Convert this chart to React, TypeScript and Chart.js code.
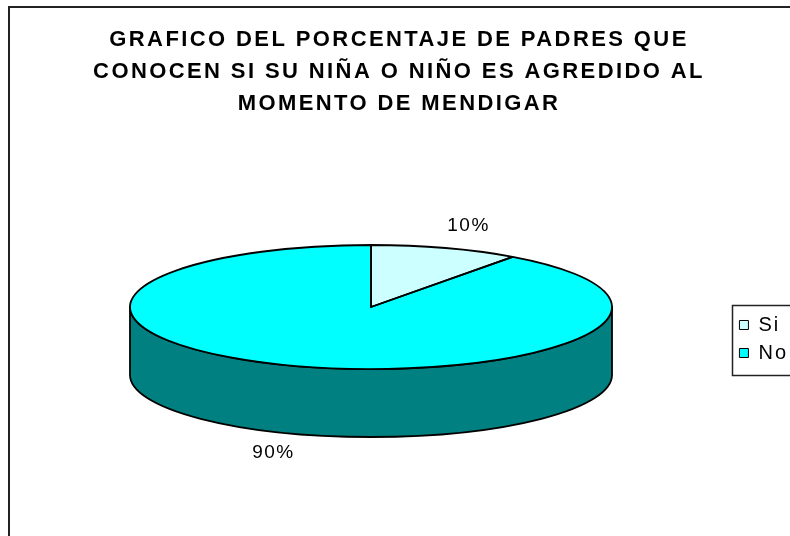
import React, { useEffect, useRef } from 'react';
import { Chart, registerables } from 'chart.js';

Chart.register(...registerables);

// ---- data ----
const categories = ['Si', 'No'];
const values = [10, 90];
const topColors = ['#CCFFFF', '#00FFFF'];
const sideColors = ['#99CCCC', '#008080'];
const titleLines = [
  'GRAFICO DEL PORCENTAJE DE PADRES QUE',
  'CONOCEN SI SU NIÑA O NIÑO ES AGREDIDO AL',
  'MOMENTO DE MENDIGAR',
];

// ---- style / layout ----
const FONT = '"Liberation Sans", Arial, Helvetica, sans-serif';
const PIE = { cx: 371, cy: 307, rx: 241, ry: 62, depth: 68 };
const TITLE_SPACING = '2.4px';
const LEGEND_SPACING = '2px';
const LABEL_SPACING = '1.5px';

function frontRanges(s: number, e: number): Array<[number, number]> {
  const out: Array<[number, number]> = [];
  for (let k = -2; k <= 2; k++) {
    const lo = k * 2 * Math.PI;
    const hi = lo + Math.PI;
    const a = Math.max(s, lo);
    const b = Math.min(e, hi);
    if (b > a) out.push([a, b]);
  }
  return out;
}

const pie3d = {
  id: 'pie3d',
  beforeLayout(chart: any) {
    chart.ctx.letterSpacing = LEGEND_SPACING;
  },
  afterLayout(chart: any) {
    const lg = chart.legend;
    if (lg && !lg._spacingWrapped) {
      const d = lg.draw;
      lg.draw = function (...args: any[]) {
        const ctx = this.ctx;
        const prev = ctx.letterSpacing;
        ctx.letterSpacing = LEGEND_SPACING;
        d.apply(this, args);
        ctx.letterSpacing = prev;
      };
      lg._spacingWrapped = true;
    }
  },
  beforeDraw(chart: any) {
    const ctx = chart.ctx;
    ctx.save();
    ctx.strokeStyle = '#222';
    ctx.lineWidth = 2;
    ctx.strokeRect(9, 7, 820, 620);
    ctx.restore();
    ctx.letterSpacing = TITLE_SPACING;
  },
  beforeDatasetsDraw(chart: any) {
    const ctx = chart.ctx;
    const arcs = chart.getDatasetMeta(0).data;
    ctx.save();
    ctx.letterSpacing = '0px';
    ctx.save();
    ctx.lineWidth = 1.8;
    ctx.strokeStyle = '#000';
    ctx.lineJoin = 'round';
    arcs.forEach((arc: any, i: number) => {
      const { startAngle, endAngle } = arc.getProps(['startAngle', 'endAngle'], true);
      for (const [a, b] of frontRanges(startAngle, endAngle)) {
        ctx.beginPath();
        ctx.ellipse(PIE.cx, PIE.cy, PIE.rx, PIE.ry, 0, a, b, false);
        ctx.ellipse(PIE.cx, PIE.cy + PIE.depth, PIE.rx, PIE.ry, 0, b, a, true);
        ctx.closePath();
        ctx.fillStyle = sideColors[i];
        ctx.fill();
        ctx.stroke();
      }
    });
    ctx.restore();
    const { x, y, outerRadius } = arcs[0].getProps(['x', 'y', 'outerRadius'], true);
    ctx.translate(PIE.cx, PIE.cy);
    ctx.scale(PIE.rx / outerRadius, PIE.ry / outerRadius);
    ctx.translate(-x, -y);
  },
  afterDatasetsDraw(chart: any) {
    const ctx = chart.ctx;
    ctx.restore();
    const arcs = chart.getDatasetMeta(0).data;
    const total = values.reduce((s, v) => s + v, 0);
    ctx.save();
    ctx.lineWidth = 1.8;
    ctx.strokeStyle = '#000';
    ctx.lineJoin = 'round';
    arcs.forEach((arc: any) => {
      const { startAngle, endAngle } = arc.getProps(['startAngle', 'endAngle'], true);
      ctx.beginPath();
      ctx.moveTo(PIE.cx, PIE.cy);
      ctx.ellipse(PIE.cx, PIE.cy, PIE.rx, PIE.ry, 0, startAngle, endAngle, false);
      ctx.closePath();
      ctx.stroke();
    });
    ctx.font = `19px ${FONT}`;
    ctx.letterSpacing = LABEL_SPACING;
    ctx.fillStyle = '#000';
    ctx.textAlign = 'center';
    ctx.textBaseline = 'middle';
    arcs.forEach((arc: any, i: number) => {
      const { startAngle, endAngle } = arc.getProps(['startAngle', 'endAngle'], true);
      const mid = (startAngle + endAngle) / 2;
      const c = Math.cos(mid);
      const s = Math.sin(mid);
      const lx = PIE.cx + PIE.rx * 1.31 * c;
      const ly = PIE.cy + PIE.ry * 1.37 * s + PIE.depth * Math.max(0, s);
      ctx.fillText(Math.round((values[i] / total) * 100) + '%', lx, ly);
    });
    ctx.restore();
  },
  afterDraw(chart: any) {
    const ctx = chart.ctx;
    const hb = chart.legend && chart.legend.legendHitBoxes;
    if (!hb || !hb.length) return;
    const left = Math.min(...hb.map((h: any) => h.left)) - 7;
    const top = hb[0].top - 10;
    const last = hb[hb.length - 1];
    const bottom = last.top + last.height + 12;
    ctx.save();
    ctx.strokeStyle = '#222';
    ctx.lineWidth = 1.5;
    ctx.strokeRect(Math.round(left) + 0.5, Math.round(top) + 0.5, 900 - left, bottom - top);
    ctx.restore();
  },
};

export default function App() {
  const ref = useRef<HTMLCanvasElement | null>(null);
  useEffect(() => {
    const canvas = ref.current;
    if (!canvas) return;
    const base: any = (Chart as any).overrides.doughnut.plugins.legend.labels.generateLabels;
    const chart = new Chart(canvas, {
      type: 'pie',
      data: {
        labels: categories,
        datasets: [
          {
            data: values,
            backgroundColor: topColors,
            borderWidth: 0,
            clip: false as any,
          } as any,
        ],
      },
      options: {
        animation: false,
        responsive: false,
        maintainAspectRatio: false,
        events: [],
        layout: { padding: { left: 0, top: 0, right: -8, bottom: 0 } },
        plugins: {
          title: {
            display: true,
            text: titleLines,
            color: '#000',
            font: { family: FONT, size: 22, weight: 'bold', lineHeight: 1.4545 },
            padding: { top: 23.5, bottom: 22.5 },
          },
          legend: {
            position: 'right',
            fullSize: false,
            labels: {
              color: '#000',
              font: { family: FONT, size: 20 },
              boxWidth: 9,
              boxHeight: 9,
              padding: 8,
              generateLabels: (c: any) =>
                base(c).map((l: any) => ({ ...l, strokeStyle: '#000', lineWidth: 1 })),
            },
          },
          tooltip: { enabled: false },
        },
      } as any,
      plugins: [pie3d as any],
    });
    return () => chart.destroy();
  }, []);
  return (
    <div style={{ position: 'fixed', left: 0, top: 0, width: 790, height: 536, background: '#fff' }}>
      <canvas ref={ref} width={790} height={536} style={{ width: 790, height: 536, display: 'block' }} />
    </div>
  );
}
